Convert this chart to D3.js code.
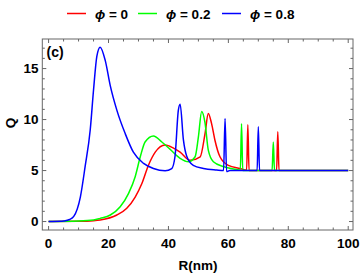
<!DOCTYPE html>
<html><head><meta charset="utf-8">
<script src="https://cdn.jsdelivr.net/npm/d3@7"></script>
<style>body{margin:0;background:#fff;}svg{display:block;font-family:"Liberation Sans",Arial,sans-serif;}</style>
</head><body><svg id="c" width="360" height="276"></svg>
<script>
const seriesNames = ["ϕ = 0", "ϕ = 0.2", "ϕ = 0.8"];
const seriesColors = ["#ff0000", "#00ff00", "#0000ff"];
const redR = [0,10,15,17.2,22.8,26.1,28.9,31.1,33.3,35.6,38.9,41.7,43.9,47.2,50.6,52.2,53.3,54.4,55.5,57.2,60,63.9,66.1,66.5,66.9,68,76.1,76.5,76.9,100];
const redQ = [0,0.02,0.08,0.15,0.64,1.3,2.4,3.7,5.5,6.8,7.5,7.2,6.8,6.0,6.35,8.6,10.6,9.6,8.0,6.35,5.5,5.2,5.05,9.5,5.0,5.0,5.0,8.8,5.0,5.0];
const greenR = [0,10,15,17.2,20.6,23.9,26.7,28.9,30.6,32.2,35,37.8,40.5,43.9,46.7,48.9,50,51.1,52.2,53.3,55,58.3,62.8,64,64.4,64.8,66,74.6,75,75.4,100];
const greenQ = [0,0.05,0.15,0.31,0.64,1.45,2.76,4.4,6.35,7.8,8.4,7.8,7.1,6.2,5.86,6.35,8.3,10.8,9.7,7.0,5.86,5.4,5.1,5.05,9.6,5.0,5.0,5.0,7.8,5.0,5.0];
const blueR = [0,4,5,7,8.4,10.6,12.2,13.9,15,16.1,17.2,18.9,20.6,22.8,25.6,28.3,31.7,35,38.9,41.1,42.2,43.3,43.9,45,46.1,48.3,51.7,56.1,58.4,58.9,59.4,60.5,69.6,70,70.4,100];
const blueQ = [0,0.02,0.05,0.2,0.5,2.4,5.4,9.0,12.9,16.2,17.1,15.8,13.3,10.9,8.6,6.8,5.7,5.2,4.98,5.2,6.4,10.9,11.5,8.0,6.4,5.5,5.2,5.05,5.0,10.1,4.9,5.0,5.0,9.3,5.0,5.0];
const xTicks = [0,20,40,60,80,100];
const yTicks = [0,5,10,15];

const svg = d3.select("#c");
const x = d3.scaleLinear().domain([-2.1, 101.6]).range([42.3, 353]);
const y = d3.scaleLinear().domain([-0.83, 17.9]).range([230, 39]);
const L = 42.3, R = 353, T = 39, B = 230;
const frameColor = "#666";

svg.append("defs").append("clipPath").attr("id","clip").append("rect")
  .attr("x",L).attr("y",T).attr("width",R-L).attr("height",B-T);

// ticks
const g = svg.append("g");
const xMinor = d3.range(0, 101, 5);
const yMinor = d3.range(0, 18, 1);
xMinor.forEach(v => {
  const major = xTicks.includes(v); const len = major ? 4 : 2.5;
  g.append("line").attr("x1",x(v)).attr("x2",x(v)).attr("y1",B).attr("y2",B-len).attr("stroke",frameColor);
  g.append("line").attr("x1",x(v)).attr("x2",x(v)).attr("y1",T).attr("y2",T+len).attr("stroke",frameColor);
});
yMinor.forEach(v => {
  const major = yTicks.includes(v); const len = major ? 4 : 2.5;
  g.append("line").attr("y1",y(v)).attr("y2",y(v)).attr("x1",L).attr("x2",L+len).attr("stroke",frameColor);
  g.append("line").attr("y1",y(v)).attr("y2",y(v)).attr("x1",R).attr("x2",R-len).attr("stroke",frameColor);
});
g.append("rect").attr("x",L).attr("y",T).attr("width",R-L).attr("height",B-T)
  .attr("fill","none").attr("stroke",frameColor).attr("stroke-width",1);

// tick labels
xTicks.forEach(v => {
  svg.append("text").attr("x",x(v)).attr("y",247.5).attr("text-anchor","middle")
    .attr("font-size",13.5).attr("font-weight","bold").text(v);
});
yTicks.forEach(v => {
  svg.append("text").attr("x",38.5).attr("y",y(v)+4.8).attr("text-anchor","end")
    .attr("font-size",13.5).attr("font-weight","bold").text(v);
});

// axis labels
svg.append("text").attr("x",198).attr("y",269.5).attr("text-anchor","middle")
  .attr("font-size",13.5).attr("font-weight","bold").text("R(nm)");
svg.append("text").attr("transform","translate(14.5,123) rotate(-90)").attr("text-anchor","middle")
  .attr("font-size",13.5).attr("font-weight","bold").text("Q");
svg.append("text").attr("x",46.5).attr("y",57).attr("font-size",14).attr("font-weight","bold").text("(c)");

// lines
const line = d3.line().x(d=>x(d[0])).y(d=>y(d[1])).curve(d3.curveMonotoneX);
const series = [d3.zip(redR, redQ), d3.zip(greenR, greenQ), d3.zip(blueR, blueQ)];
const lg = svg.append("g").attr("clip-path","url(#clip)");
series.forEach((s,i) => {
  lg.append("path").datum(s).attr("d",line).attr("fill","none")
    .attr("stroke",seriesColors[i]).attr("stroke-width",1.5).attr("stroke-linejoin","round");
});

// legend
const legX = [67, 138, 222];
seriesNames.forEach((n,i) => {
  svg.append("line").attr("x1",legX[i]).attr("x2",legX[i]+19).attr("y1",13.5).attr("y2",13.5)
    .attr("stroke",seriesColors[i]).attr("stroke-width",1.5);
  const t = svg.append("text").attr("x",legX[i]+28).attr("y",18.5).attr("font-size",13.5).attr("font-weight","bold");
  t.append("tspan").attr("font-style","italic").text("ϕ");
  t.append("tspan").text(n.slice(1));
});
</script></body></html>
